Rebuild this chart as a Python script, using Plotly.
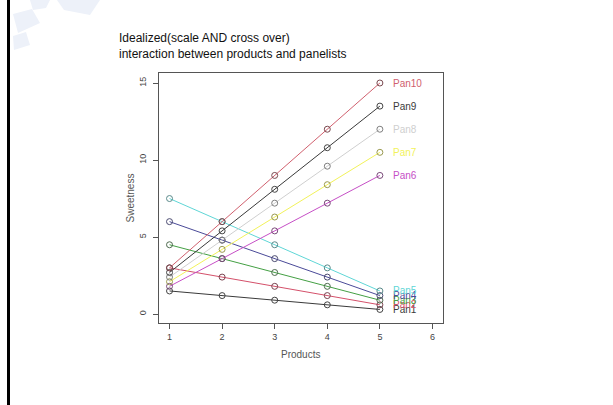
import plotly.graph_objects as go

products = [1, 2, 3, 4, 5]
panelists = ["Pan1", "Pan2", "Pan3", "Pan4", "Pan5", "Pan6", "Pan7", "Pan8", "Pan9", "Pan10"]
sweetness = {
    "Pan1": [1.5, 1.2, 0.9, 0.6, 0.3],
    "Pan2": [3.0, 2.4, 1.8, 1.2, 0.6],
    "Pan3": [4.5, 3.6, 2.7, 1.8, 0.9],
    "Pan4": [6.0, 4.8, 3.6, 2.4, 1.2],
    "Pan5": [7.5, 6.0, 4.5, 3.0, 1.5],
    "Pan6": [1.8, 3.6, 5.4, 7.2, 9.0],
    "Pan7": [2.1, 4.2, 6.3, 8.4, 10.5],
    "Pan8": [2.4, 4.8, 7.2, 9.6, 12.0],
    "Pan9": [2.7, 5.4, 8.1, 10.8, 13.5],
    "Pan10": [3.0, 6.0, 9.0, 12.0, 15.0],
}
line_colors = {
    "Pan1": "#3a3a3a", "Pan2": "#d4506a", "Pan3": "#44a044", "Pan4": "#4a4a98",
    "Pan5": "#5fd6d6", "Pan6": "#c64fc6", "Pan7": "#f2f25a", "Pan8": "#cfcfcf",
    "Pan9": "#3a3a3a", "Pan10": "#d0606e",
}
marker_colors = {
    "Pan1": "#444444", "Pan2": "#7a4450", "Pan3": "#4e6a4e", "Pan4": "#4a4a70",
    "Pan5": "#5a8a8a", "Pan6": "#7a4a7a", "Pan7": "#9a9a50", "Pan8": "#808080",
    "Pan9": "#444444", "Pan10": "#7a4a50",
}
x_ticks = [1, 2, 3, 4, 5, 6]
y_ticks = [0, 5, 10, 15]

W, H = 613, 405
def px(x):
    return x / W
def py(y):
    return 1 - y / H

fig = go.Figure()
for p in panelists:
    fig.add_trace(go.Scatter(
        x=products, y=sweetness[p], mode="lines+markers", name=p,
        line=dict(color=line_colors[p], width=1),
        marker=dict(symbol="circle-open", size=6, color=marker_colors[p], line=dict(width=1)),
        showlegend=False, hoverinfo="skip"))
    fig.add_annotation(x=products[-1], y=sweetness[p][-1], text=p, showarrow=False,
                       xanchor="left", yanchor="middle", xshift=11,
                       font=dict(family="Liberation Sans, Arial", size=10, color=line_colors[p]))

axis_common = dict(showline=True, linecolor="#555555", linewidth=1, mirror=True,
                   ticks="outside", ticklen=5, tickcolor="#555555", showgrid=False,
                   zeroline=False, tickfont=dict(family="Liberation Sans, Arial", size=9, color="#444444"))
fig.update_xaxes(range=[0.8, 6.2], tickvals=x_ticks, domain=[px(159), px(443)], **axis_common)
fig.update_yaxes(range=[-0.58, 15.65], tickvals=y_ticks, tickangle=-90, ticklabelstandoff=3,
                 domain=[py(323), py(73)], **axis_common)

fig.add_annotation(xref="paper", yref="paper", x=px(117), y=py(29), xanchor="left", yanchor="top",
                   align="left", showarrow=False,
                   text="Idealized(scale AND cross over)<br>interaction between products and panelists",
                   font=dict(family="Liberation Sans, Arial", size=12, color="#111111"))
fig.add_annotation(xref="paper", yref="paper", x=px(122), y=py(198), textangle=-90, showarrow=False,
                   text="Sweetness", font=dict(family="Liberation Sans, Arial", size=10, color="#555555"))
fig.add_annotation(xref="paper", yref="paper", x=px(300), y=py(362), showarrow=False,
                   text="Products", font=dict(family="Liberation Sans, Arial", size=10, color="#555555"))

# left border line of the slide
fig.add_shape(type="line", xref="paper", yref="paper", x0=px(8.5), x1=px(8.5), y0=0, y1=1,
              line=dict(color="#000000", width=3))
# faint watermark in the top-left corner
wm = "#edf1f9"
for path in [
    "M 57 0 L 100 0 L 90 15 L 64 10 Z",
    "M 13 14 L 32 9 L 40 23 L 18 33 Z",
    "M 13 36 L 26 32 L 30 45 L 14 50 Z",
    "M 30 0 L 50 0 L 46 8 L 33 10 Z",
]:
    parts = path.split()
    pts = []
    i = 0
    while i < len(parts):
        if parts[i] in ("M", "L"):
            pts.append((float(parts[i + 1]), float(parts[i + 2])))
            i += 3
        else:
            i += 1
    d = "M " + " L ".join(f"{px(a):.4f},{py(b):.4f}" for a, b in pts) + " Z"
    fig.add_shape(type="path", xref="paper", yref="paper", path=d,
                  fillcolor=wm, line=dict(width=0), layer="below")

fig.update_layout(width=W, height=H, margin=dict(l=0, r=0, t=0, b=0),
                  paper_bgcolor="white", plot_bgcolor="white")
fig.write_html("out.html")
